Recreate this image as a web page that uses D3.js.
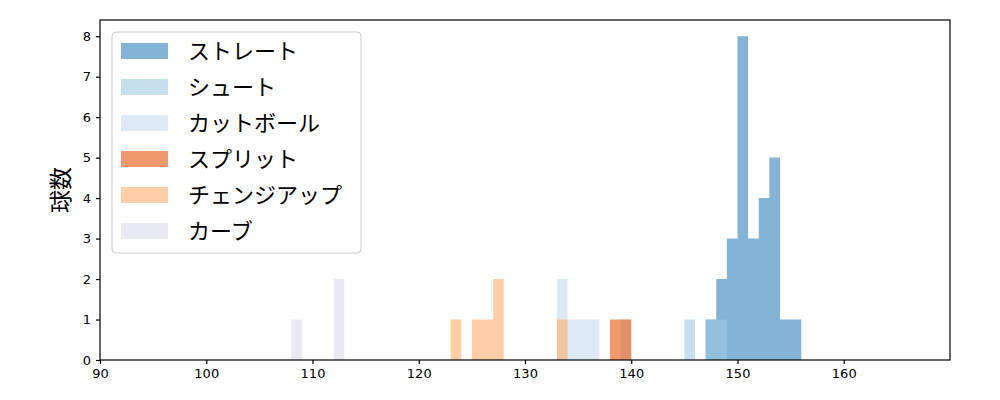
<!DOCTYPE html>
<html>
<head>
<meta charset="utf-8">
<script src="https://cdn.jsdelivr.net/npm/d3@7"></script>
<style>
  body { margin: 0; background: #fff; }
  .tick text { font-family: "DejaVu Sans", sans-serif; font-size: 13px; fill: #000; }
  .jp { font-family: "Noto Sans CJK JP", sans-serif; }
</style>
</head>
<body>
<div id="chart"></div>
<script>
// Pitch speed histogram, one series per pitch type (bins are 1 km/h wide)

const pitchNames = ["ストレート", "シュート", "カットボール", "スプリット", "チェンジアップ", "カーブ"];
const pitchColors = ["#3182bd", "#9ecae1", "#c6dbef", "#e6550d", "#fdae6b", "#dadaeb"];

// bin start speed and count for each pitch type
const straightBins = [147, 148, 149, 150, 151, 152, 153, 154, 155];
const straightCounts = [1, 2, 3, 8, 3, 4, 5, 1, 1];
const shootBins = [145, 147, 148];
const shootCounts = [1, 1, 1];
const cutBins = [133, 134, 135, 136, 139];
const cutCounts = [2, 1, 1, 1, 1];
const splitBins = [138, 139];
const splitCounts = [1, 1];
const changeupBins = [123, 125, 126, 127, 133];
const changeupCounts = [1, 1, 1, 2, 1];
const curveBins = [108, 112];
const curveCounts = [1, 2];

const xTicks = [90, 100, 110, 120, 130, 140, 150, 160];
const yTicks = [0, 1, 2, 3, 4, 5, 6, 7, 8];

const binWidth = 1;

const width = 1000;
const height = 400;
const margin = { top: 20, right: 50, bottom: 40, left: 100 };

const series = [
    { bins: straightBins, counts: straightCounts },
    { bins: shootBins, counts: shootCounts },
    { bins: cutBins, counts: cutCounts },
    { bins: splitBins, counts: splitCounts },
    { bins: changeupBins, counts: changeupCounts },
    { bins: curveBins, counts: curveCounts }
].map((s, i) => ({
    name: pitchNames[i],
    color: pitchColors[i],
    values: s.bins.map((b, j) => ({ x0: b, x1: b + binWidth, count: s.counts[j] }))
}));

const svg = d3.select("#chart")
    .append("svg")
    .attr("width", width)
    .attr("height", height);

const xScale = d3.scaleLinear()
    .domain([90, 170])
    .range([margin.left, width - margin.right]);

const yScale = d3.scaleLinear()
    .domain([0, 8.4])
    .range([height - margin.bottom, margin.top]);

// ---------- bars ----------
// one path per series so neighbouring bins don't leave seams
const groups = svg.append("g")
    .selectAll("path")
    .data(series)
    .enter()
    .append("path")
    .attr("fill", d => d.color)
    .attr("fill-opacity", 0.6)
    .attr("d", d => d.values.map(v => {
        const x0 = xScale(v.x0), x1 = xScale(v.x1);
        const y0 = yScale(0), y1 = yScale(v.count);
        return `M${x0},${y0}V${y1}H${x1}V${y0}Z`;
    }).join(""));

// ---------- axes ----------
const xAxis = d3.axisBottom(xScale)
    .tickValues(xTicks)
    .tickSize(4)
    .tickPadding(5);

const yAxis = d3.axisLeft(yScale)
    .tickValues(yTicks)
    .tickSize(4)
    .tickPadding(5);

svg.append("g")
    .attr("transform", `translate(0, ${height - margin.bottom})`)
    .call(xAxis)
    .call(g => g.select(".domain").remove());

svg.append("g")
    .attr("transform", `translate(${margin.left}, 0)`)
    .call(yAxis)
    .call(g => g.select(".domain").remove());

svg.selectAll(".tick line").attr("stroke", "#000").attr("stroke-width", 1.2);

// frame round the plot
svg.append("rect")
    .attr("x", margin.left)
    .attr("y", margin.top)
    .attr("width", width - margin.left - margin.right)
    .attr("height", height - margin.top - margin.bottom)
    .attr("fill", "none")
    .attr("stroke", "#000")
    .attr("stroke-width", 1.2);

// y label
svg.append("text")
    .attr("class", "jp")
    .attr("transform", `translate(69, ${(margin.top + height - margin.bottom) / 2}) rotate(-90)`)
    .attr("text-anchor", "middle")
    .attr("font-size", 23)
    .text("球数");

// ---------- legend ----------
const legend = svg.append("g")
    .attr("transform", "translate(112, 32)");

legend.append("rect")
    .attr("width", 249)
    .attr("height", 221)
    .attr("rx", 4)
    .attr("fill", "#fff")
    .attr("fill-opacity", 0.8)
    .attr("stroke", "#ccc");

const rows = legend.selectAll(".row")
    .data(series)
    .enter()
    .append("g")
    .attr("class", "row")
    .attr("transform", (d, i) => `translate(0, ${19 + i * 36})`);

rows.append("rect")
    .attr("x", 9)
    .attr("y", -8)
    .attr("width", 47)
    .attr("height", 16)
    .attr("fill", d => d.color)
    .attr("fill-opacity", 0.6);

rows.append("text")
    .attr("class", "jp")
    .attr("x", 76)
    .attr("y", 8)
    .attr("font-size", 22)
    .text(d => d.name);
</script>
</body>
</html>
